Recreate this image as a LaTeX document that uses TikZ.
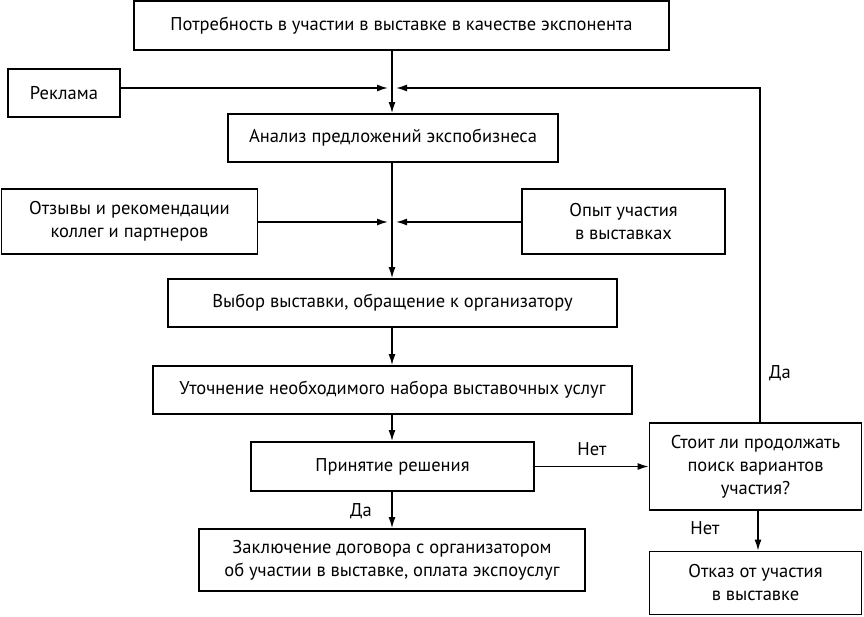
\documentclass[tikz,border=0pt]{standalone}
\usepackage{fontspec}
\setmainfont{PT Sans}
\usetikzlibrary{arrows.meta,calc}
\begin{document}
\begin{tikzpicture}[x=1pt,y=-1pt,
  box/.style={draw,line width=1.8pt,inner sep=0pt,align=center,font=\fontsize{18.5}{23}\selectfont},
  conn/.style={line width=1.5pt,-{Latex[length=11pt,width=7pt]}},
  lab/.style={font=\fontsize{18.5}{22}\selectfont}]
\useasboundingbox (0,0) rectangle (864,616);
\node[box,minimum width=535pt,minimum height=49pt] (n1) at (401.5,25.5) {Потребность в участии в выставке в качестве экспонента};
\node[box,minimum width=112pt,minimum height=48pt] (rek) at (64,93) {Реклама};
\node[box,minimum width=330pt,minimum height=48pt] (an) at (393,138) {Анализ предложений экспобизнеса};
\node[box,minimum width=256pt,minimum height=65pt] (otz) at (129.5,221.5) {Отзывы и рекомендации\\коллег и партнеров};
\node[box,minimum width=203pt,minimum height=65pt] (opyt) at (623.5,221.5) {Опыт участия\\в выставках};
\node[box,minimum width=449pt,minimum height=48pt] (vyb) at (392.5,303) {Выбор выставки, обращение к организатору};
\node[box,minimum width=479pt,minimum height=48pt] (uto) at (392.5,390) {Уточнение необходимого набора выставочных услуг};
\node[box,minimum width=212pt,minimum height=87pt] (stoit) at (755.5,466.5) {Стоит ли продолжать\\поиск вариантов\\участия?};
\node[box,minimum width=283pt,minimum height=49pt] (prin) at (392.5,466.5) {Принятие решения};
\node[box,minimum width=386pt,minimum height=62pt] (zakl) at (392,560) {Заключение договора с организатором\\об участии в выставке, оплата экспоуслуг};
\node[box,minimum width=212pt,minimum height=63pt] (otkaz) at (755.5,583) {Отказ от участия\\в выставке};
% junction coordinates
\coordinate (j1l) at (388,88);
\coordinate (j1r) at (396,88);
\coordinate (fb) at (760,88);
\coordinate (j2l) at (388,222);
\coordinate (j2r) at (396,222);
\coordinate (x1) at (392,0);
\coordinate (x2) at (758,0);
% connectors
\draw[conn] (n1.south -| x1) -- (an.north -| x1);
\draw[conn] (rek.east |- j1l) -- (j1l);
\draw[conn] (stoit.north -| fb) -- (fb) -- (j1r);
\draw[conn] (an.south -| x1) -- (vyb.north -| x1);
\draw[conn] (otz.east |- j2l) -- (j2l);
\draw[conn] (opyt.west |- j2r) -- (j2r);
\draw[conn] (vyb.south -| x1) -- (uto.north -| x1);
\draw[conn] (uto.south -| x1) -- (prin.north -| x1);
\draw[conn] (prin.south -| x1) -- (zakl.north -| x1);
\draw[conn] (prin.east) -- (stoit.west |- prin.east);
\draw[conn] (stoit.south -| x2) -- (otkaz.north -| x2);
% labels
\node[lab] (l1) at (780,373) {Да};
\node[lab] (l2) at (592,449) {Нет};
\node[lab] (l3) at (361,511) {Да};
\node[lab] (l4) at (705,528) {Нет};
\end{tikzpicture}
\end{document}
